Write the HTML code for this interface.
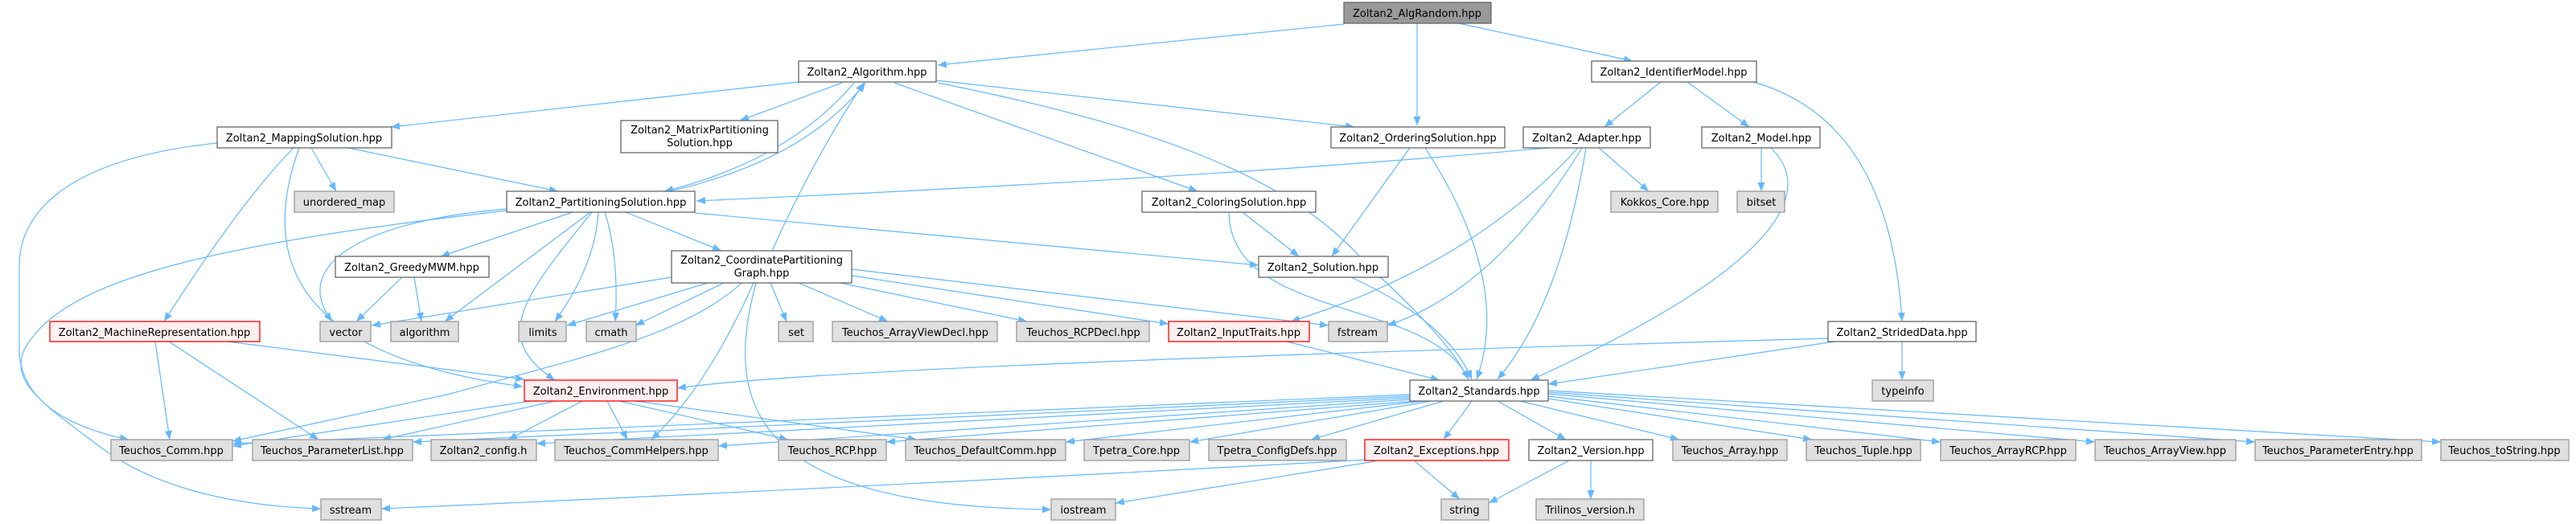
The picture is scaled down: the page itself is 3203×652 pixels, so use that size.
<!DOCTYPE html>
<html><head><meta charset="utf-8"><style>
html,body{margin:0;padding:0;background:#fff;}
svg{display:block;}
text{font-family:"DejaVu Sans","Liberation Sans",sans-serif;font-size:13px;fill:#000;text-anchor:middle;}
.e{fill:none;stroke:#63b8ff;stroke-width:1.2;marker-end:url(#a);}
.w{fill:#fff;stroke:#666;stroke-width:1.3;}
.g{fill:#e0e0e0;stroke:#999;stroke-width:1.3;}
.r{fill:#fff0f0;stroke:#ff0000;stroke-width:1.3;}
.k{fill:#999;stroke:#666;stroke-width:1.3;}
</style></head><body>
<svg width="3203" height="652" viewBox="0 0 3203 652" xmlns="http://www.w3.org/2000/svg">
<defs><marker id="a" markerUnits="userSpaceOnUse" markerWidth="12" markerHeight="10" refX="11" refY="4.5" orient="auto"><path d="M0,0 L11,4.5 L0,9 z" fill="#63b8ff"/></marker></defs>
<g>
<path class="e" d="M1671,30 L1166,81"/>
<path class="e" d="M1762,29 L1762,156"/>
<path class="e" d="M1814,29 L2030,76"/>
<path class="e" d="M993,102 L486,158"/>
<path class="e" d="M1047,103 L920,150"/>
<path class="e" d="M1062,103 Q980,200 826,238"/>
<path class="e" d="M832,238 Q1000,200 1076,103"/>
<path class="e" d="M960,312 Q1010,200 1074,103"/>
<path class="e" d="M1164,100 L1684,158"/>
<path class="e" d="M1112,103 L1489,238"/>
<path class="e" d="M1166,103 C1400,150 1600,210 1700,330 Q1800,420 1826,472"/>
<path class="e" d="M1753,184 L1656,319"/>
<path class="e" d="M1772,184 Q1880,350 1836,472"/>
<path class="e" d="M2065,102 L1995,158"/>
<path class="e" d="M2098,102 L2175,158"/>
<path class="e" d="M2180,102 Q2350,150 2365,400"/>
<path class="e" d="M1925,184 Q1500,222 866,250"/>
<path class="e" d="M1962,184 Q1830,330 1605,400"/>
<path class="e" d="M1967,184 Q1860,360 1725,405"/>
<path class="e" d="M1972,184 Q1940,380 1862,472"/>
<path class="e" d="M1988,184 L2050,238"/>
<path class="e" d="M2190,184 L2190,238"/>
<path class="e" d="M2202,184 C2250,230 2240,320 1903,473"/>
<path class="e" d="M1545,264 L1615,319"/>
<path class="e" d="M1528,264 C1530,400 1780,370 1826,472"/>
<path class="e" d="M1680,345 Q1800,400 1830,472"/>
<path class="e" d="M270,178 C60,200 24,280 24,330 L24,440 Q30,520 160,547"/>
<path class="e" d="M365,184 Q300,250 204,400"/>
<path class="e" d="M372,184 C330,300 340,440 650,481"/>
<path class="e" d="M387,184 L418,238"/>
<path class="e" d="M433,184 L694,238"/>
<path class="e" d="M630,262 C300,300 100,340 40,420 C0,470 50,500 130,560 C200,610 300,630 399,633"/>
<path class="e" d="M630,260 C450,275 360,330 413,400"/>
<path class="e" d="M712,264 L548,319"/>
<path class="e" d="M734,264 L553,400"/>
<path class="e" d="M736,264 C650,370 610,420 690,473"/>
<path class="e" d="M744,264 Q740,330 690,400"/>
<path class="e" d="M752,264 Q770,320 765,400"/>
<path class="e" d="M778,264 L897,312"/>
<path class="e" d="M864,265 L1565,330"/>
<path class="e" d="M500,345 L443,400"/>
<path class="e" d="M515,345 L524,400"/>
<path class="e" d="M193,425 L211,547"/>
<path class="e" d="M210,425 L396,547"/>
<path class="e" d="M283,425 L652,472"/>
<path class="e" d="M835,345 L462,405"/>
<path class="e" d="M880,352 L705,405"/>
<path class="e" d="M900,352 L790,405"/>
<path class="e" d="M922,352 C850,420 700,450 560,490 L289,549"/>
<path class="e" d="M937,352 Q880,480 810,547"/>
<path class="e" d="M940,352 C900,500 930,630 1307,634"/>
<path class="e" d="M958,352 L978,400"/>
<path class="e" d="M993,352 L1104,400"/>
<path class="e" d="M1045,352 L1277,400"/>
<path class="e" d="M1059,343 L1453,403"/>
<path class="e" d="M1059,335 L1652,405"/>
<path class="e" d="M1600,425 L1790,473"/>
<path class="e" d="M2273,421 C1600,440 1000,460 842,483"/>
<path class="e" d="M2281,425 L1925,478"/>
<path class="e" d="M2365,425 L2365,473"/>
<path class="e" d="M660,499 L289,555"/>
<path class="e" d="M690,499 L475,547"/>
<path class="e" d="M724,499 L632,547"/>
<path class="e" d="M755,499 L780,547"/>
<path class="e" d="M770,499 L980,547"/>
<path class="e" d="M790,499 L1140,547"/>
<path class="e" d="M1753,491 L289,552"/>
<path class="e" d="M1753,493 L513,550"/>
<path class="e" d="M1753,495 L667,552"/>
<path class="e" d="M1753,497 L893,555"/>
<path class="e" d="M1760,499 L1102,550"/>
<path class="e" d="M1770,499 L1325,550"/>
<path class="e" d="M1780,499 L1479,550"/>
<path class="e" d="M1795,499 L1630,547"/>
<path class="e" d="M1830,499 L1795,547"/>
<path class="e" d="M1862,499 L1947,547"/>
<path class="e" d="M1890,499 L2088,547"/>
<path class="e" d="M1925,496 L2253,547"/>
<path class="e" d="M1925,493 L2413,550"/>
<path class="e" d="M1925,490 L2605,550"/>
<path class="e" d="M1925,488 L2804,550"/>
<path class="e" d="M1925,486 L3035,550"/>
<path class="e" d="M1700,572 Q1000,610 474,633"/>
<path class="e" d="M1710,574 L1387,626"/>
<path class="e" d="M1757,572 L1815,621"/>
<path class="e" d="M1953,572 L1851,626"/>
<path class="e" d="M1978,572 L1978,621"/>
</g>
<g>
<rect class="k" x="1671" y="3" width="183" height="26"/><text x="1762" y="21">Zoltan2_AlgRandom.hpp</text>
<rect class="w" x="993" y="76" width="171" height="26"/><text x="1078" y="94">Zoltan2_Algorithm.hpp</text>
<rect class="w" x="1979" y="76" width="205" height="26"/><text x="2081" y="94">Zoltan2_IdentifierModel.hpp</text>
<rect class="w" x="270" y="158" width="217" height="26"/><text x="378" y="176">Zoltan2_MappingSolution.hpp</text>
<rect class="w" x="772" y="150" width="195" height="40"/><text x="870" y="166">Zoltan2_MatrixPartitioning</text><text x="870" y="182">Solution.hpp</text>
<rect class="w" x="1655" y="158" width="216" height="26"/><text x="1763" y="176">Zoltan2_OrderingSolution.hpp</text>
<rect class="w" x="1894" y="158" width="158" height="26"/><text x="1973" y="176">Zoltan2_Adapter.hpp</text>
<rect class="w" x="2116" y="158" width="147" height="26"/><text x="2190" y="176">Zoltan2_Model.hpp</text>
<rect class="w" x="630" y="238" width="234" height="26"/><text x="747" y="256">Zoltan2_PartitioningSolution.hpp</text>
<rect class="g" x="366" y="238" width="124" height="26"/><text x="428" y="256">unordered_map</text>
<rect class="w" x="1420" y="238" width="216" height="26"/><text x="1528" y="256">Zoltan2_ColoringSolution.hpp</text>
<rect class="g" x="2003" y="238" width="133" height="26"/><text x="2070" y="256">Kokkos_Core.hpp</text>
<rect class="g" x="2160" y="238" width="59" height="26"/><text x="2190" y="256">bitset</text>
<rect class="w" x="417" y="319" width="191" height="26"/><text x="512" y="337">Zoltan2_GreedyMWM.hpp</text>
<rect class="w" x="835" y="312" width="224" height="40"/><text x="947" y="328">Zoltan2_CoordinatePartitioning</text><text x="947" y="344">Graph.hpp</text>
<rect class="w" x="1565" y="319" width="161" height="26"/><text x="1645" y="337">Zoltan2_Solution.hpp</text>
<rect class="r" x="62" y="400" width="261" height="25"/><text x="192" y="418">Zoltan2_MachineRepresentation.hpp</text>
<rect class="g" x="398" y="400" width="63" height="25"/><text x="430" y="418">vector</text>
<rect class="g" x="486" y="400" width="84" height="25"/><text x="528" y="418">algorithm</text>
<rect class="g" x="645" y="400" width="59" height="25"/><text x="675" y="418">limits</text>
<rect class="g" x="729" y="400" width="62" height="25"/><text x="760" y="418">cmath</text>
<rect class="g" x="968" y="400" width="43" height="25"/><text x="990" y="418">set</text>
<rect class="g" x="1035" y="400" width="205" height="25"/><text x="1138" y="418">Teuchos_ArrayViewDecl.hpp</text>
<rect class="g" x="1264" y="400" width="165" height="25"/><text x="1347" y="418">Teuchos_RCPDecl.hpp</text>
<rect class="r" x="1453" y="400" width="175" height="25"/><text x="1540" y="418">Zoltan2_InputTraits.hpp</text>
<rect class="g" x="1652" y="400" width="73" height="25"/><text x="1688" y="418">fstream</text>
<rect class="w" x="2273" y="400" width="184" height="25"/><text x="2365" y="418">Zoltan2_StridedData.hpp</text>
<rect class="r" x="652" y="473" width="190" height="26"/><text x="747" y="491">Zoltan2_Environment.hpp</text>
<rect class="w" x="1753" y="473" width="172" height="26"/><text x="1839" y="491">Zoltan2_Standards.hpp</text>
<rect class="g" x="2328" y="473" width="76" height="26"/><text x="2366" y="491">typeinfo</text>
<rect class="g" x="138" y="547" width="151" height="26"/><text x="213" y="565">Teuchos_Comm.hpp</text>
<rect class="g" x="314" y="547" width="199" height="26"/><text x="413" y="565">Teuchos_ParameterList.hpp</text>
<rect class="g" x="536" y="547" width="131" height="26"/><text x="601" y="565">Zoltan2_config.h</text>
<rect class="g" x="690" y="547" width="203" height="26"/><text x="791" y="565">Teuchos_CommHelpers.hpp</text>
<rect class="g" x="968" y="547" width="134" height="26"/><text x="1035" y="565">Teuchos_RCP.hpp</text>
<rect class="g" x="1126" y="547" width="199" height="26"/><text x="1225" y="565">Teuchos_DefaultComm.hpp</text>
<rect class="g" x="1348" y="547" width="131" height="26"/><text x="1413" y="565">Tpetra_Core.hpp</text>
<rect class="g" x="1503" y="547" width="171" height="26"/><text x="1588" y="565">Tpetra_ConfigDefs.hpp</text>
<rect class="r" x="1697" y="547" width="179" height="26"/><text x="1786" y="565">Zoltan2_Exceptions.hpp</text>
<rect class="w" x="1901" y="547" width="154" height="26"/><text x="1978" y="565">Zoltan2_Version.hpp</text>
<rect class="g" x="2080" y="547" width="142" height="26"/><text x="2151" y="565">Teuchos_Array.hpp</text>
<rect class="g" x="2246" y="547" width="142" height="26"/><text x="2317" y="565">Teuchos_Tuple.hpp</text>
<rect class="g" x="2413" y="547" width="168" height="26"/><text x="2497" y="565">Teuchos_ArrayRCP.hpp</text>
<rect class="g" x="2605" y="547" width="175" height="26"/><text x="2692" y="565">Teuchos_ArrayView.hpp</text>
<rect class="g" x="2804" y="547" width="207" height="26"/><text x="2907" y="565">Teuchos_ParameterEntry.hpp</text>
<rect class="g" x="3035" y="547" width="159" height="26"/><text x="3114" y="565">Teuchos_toString.hpp</text>
<rect class="g" x="399" y="621" width="75" height="26"/><text x="436" y="639">sstream</text>
<rect class="g" x="1307" y="621" width="80" height="26"/><text x="1347" y="639">iostream</text>
<rect class="g" x="1792" y="621" width="59" height="26"/><text x="1821" y="639">string</text>
<rect class="g" x="1910" y="621" width="134" height="26"/><text x="1977" y="639">Trilinos_version.h</text>
</g>
</svg>
</body></html>
